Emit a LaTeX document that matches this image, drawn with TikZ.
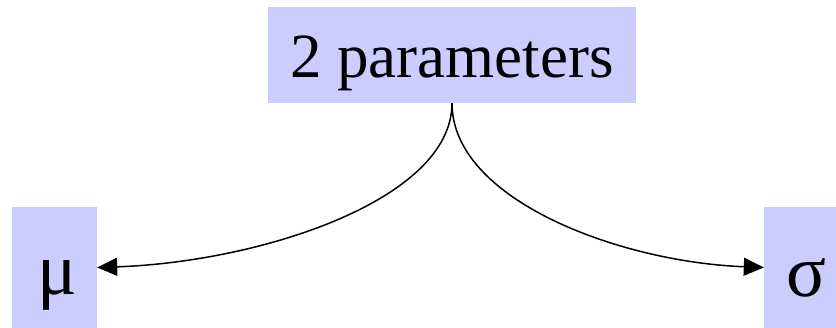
\documentclass[tikz,border=0pt]{standalone}
\usepackage{fontspec}
\setmainfont{Liberation Serif}
\usetikzlibrary{arrows.meta}
\definecolor{boxfill}{HTML}{CCCCFF}
\begin{document}
\begin{tikzpicture}[x=1pt,y=-1pt,
  pbox/.style={fill=boxfill, inner sep=0pt, anchor=base, font=\fontsize{63}{70}\selectfont},
  greek/.style={pbox, font=\fontsize{74}{80}\selectfont},
  conn/.style={line width=1.5pt, -{Triangle[length=20pt,width=18pt]}}]
\useasboundingbox (0,0) rectangle (836,328);
\node[pbox, minimum width=368pt, text height=71pt, text depth=25pt] (top) at (452,78) {2 parameters};
\node[greek, minimum width=85pt, text height=88pt, text depth=33pt] (mu) at (54.5,295) {\hspace*{5pt}μ};
\node[greek, minimum width=72pt, text height=90pt, text depth=31pt] (sigma) at (800,297) {\hspace*{12pt}σ};
\draw[conn] (top.south) .. controls (452,200) and (260,262) .. (mu.east);
\draw[conn] (top.south) .. controls (452,200) and (620,262) .. (sigma.west);
\end{tikzpicture}
\end{document}
